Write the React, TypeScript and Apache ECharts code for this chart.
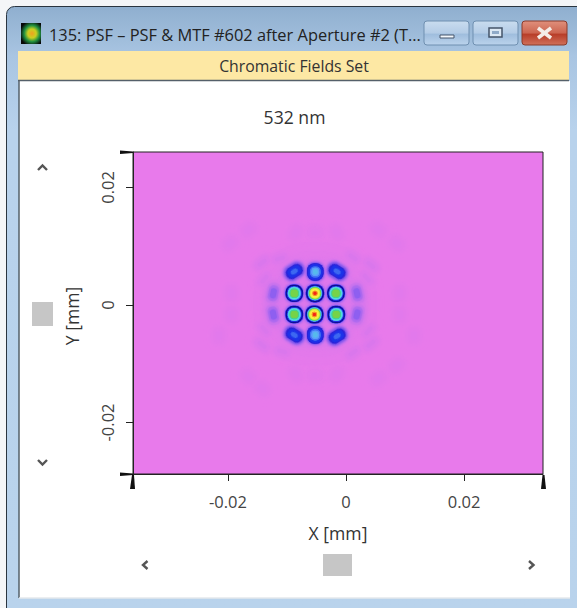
import React, { useEffect, useRef } from "react";
import * as echarts from "echarts";

const windowTitle = "135: PSF – PSF & MTF #602 after Aperture #2 (T...";
const bannerTitle = "Chromatic Fields Set";
const chartTitle = "532 nm";
const xName = "X [mm]";
const yName = "Y [mm]";
const xRange = [-0.03607, 0.03336];
const yRange = [-0.02877, 0.02604];
const xTicks = [-0.02, 0, 0.02];
const yTicks = [-0.02, 0, 0.02];

// colour of each intensity level, lowest first
const levelColors = [
  "#E87AEB", "#C873EE", "#8E5EF0", "#2A22D8", "#10108C", "#1E30E8", "#5CA0FA",
  "#50E0D8", "#38C050", "#A0E040", "#F8F040", "#F89020", "#F02818",
];

// contour bands: [width mm, height mm, level], outermost first
const haloBands = [
  [0.021, 0.021, 0.08], [0.018, 0.018, 0.16], [0.0145, 0.015, 0.28],
];
const peakBands = [
  [0.0039, 0.0039, 0.5], [0.0036, 0.0036, 1], [0.0033, 0.0033, 2], [0.0031, 0.0031, 3],
  [0.00285, 0.00285, 4], [0.00255, 0.00255, 5], [0.00235, 0.00235, 6.5], [0.0021, 0.0021, 7.5],
  [0.00195, 0.00195, 8.7], [0.00175, 0.00175, 9.6], [0.0014, 0.0014, 10],
  [0.0009, 0.0009, 11], [0.0005, 0.0005, 12],
];
const sideBands = [
  [0.0038, 0.0038, 0.5], [0.0035, 0.0035, 1], [0.0032, 0.0032, 2], [0.003, 0.003, 3],
  [0.0028, 0.0028, 4], [0.0025, 0.0025, 5], [0.0022, 0.0022, 6.3], [0.00195, 0.00195, 7],
  [0.0016, 0.0016, 7.5], [0.0012, 0.0012, 8.6], [0.0008, 0.0008, 8],
];
const edgeBands = [
  [0.0037, 0.0039, 0.5], [0.0034, 0.0036, 1], [0.0031, 0.0033, 2], [0.0028, 0.003, 3],
  [0.0024, 0.0026, 5], [0.0018, 0.0019, 5.6], [0.0013, 0.0014, 6], [0.0008, 0.0009, 6.4],
];
const cornerBands = [
  [0.0044, 0.0034, 0.5], [0.004, 0.003, 1], [0.0036, 0.0027, 1.6], [0.0033, 0.0024, 2.2],
  [0.0029, 0.002, 3], [0.0023, 0.0015, 5], [0.0012, 0.0008, 5.5],
];
const shoulderBands = [
  [0.003, 0.0045, 0.3], [0.0024, 0.0037, 0.8], [0.0017, 0.0027, 1.4], [0.001, 0.0017, 2],
];
const faintBands = [
  [0.0038, 0.003, 0.06], [0.0028, 0.002, 0.12], [0.0015, 0.001, 0.2],
];
const weakBands = [
  [0.0038, 0.0022, 0.12], [0.0029, 0.0015, 0.25], [0.0017, 0.0008, 0.45],
];

// lobes: [x mm, y mm, rotation deg]
const haloLobes = [[-0.0052, 0.0002, 0]];
const peakLobes = [[-0.00525, 0.00199, 0], [-0.00535, -0.00162, 0]];
const sideLobes = [
  [-0.00876, 0.00199, 0], [-0.0017, 0.00199, 0], [-0.00876, -0.00162, 0], [-0.00165, -0.00162, 0],
];
const edgeLobes = [[-0.0052, 0.00562, 0], [-0.0052, -0.0051, 0]];
const cornerLobes = [
  [-0.00876, 0.0057, 32], [-0.0015, 0.0057, -32], [-0.00876, -0.0051, -32], [-0.0015, -0.0053, 32],
];
const shoulderLobes = [
  [-0.0123, 0.00199, -12], [0.00186, 0.00199, 12], [-0.0123, -0.00162, 12], [0.00186, -0.00162, -12],
];
const weakLobes = [
  [-0.0142, 0.0072, 38], [-0.0112, 0.0079, 15], [-0.0138, 0.0044, 50], [0.0012, 0.0081, -35],
  [0.0042, 0.0068, -40], [0.0035, 0.0046, -50], [-0.0142, -0.0068, -38], [-0.0108, -0.0079, -15],
  [-0.0138, -0.0042, -50], [0.0012, -0.0081, 35], [0.0042, -0.0066, 40], [0.0038, -0.0044, 50],
];
const faintLobes = [
  [-0.0194, 0.00199, 90], [0.0091, 0.00199, 90], [-0.0194, -0.00162, 90], [0.0091, -0.00162, 90],
  [-0.0052, 0.0124, 0], [-0.0052, -0.012, 0], [-0.0085, 0.0123, 60], [-0.0016, 0.0123, -60],
  [-0.0085, -0.0118, -60], [-0.0016, -0.0118, 60], [0.0055, 0.0128, -40], [0.0086, 0.0105, -40],
  [-0.0165, 0.0128, 40], [-0.0196, 0.0105, 40], [-0.0165, -0.0122, -40], [-0.0142, -0.0142, -40],
  [0.0055, -0.0125, 40], [0.0086, -0.0103, 40], [-0.0215, -0.0052, 90], [0.0115, -0.0052, 90],
];

const expand = (lobes: number[][], bands: number[][]) =>
  lobes.flatMap(([x, y, rot]) => bands.map(([w, h, level]) => [x, y, w, h, rot, level]));

// drawn lowest level first, so that a brighter band is never covered by a neighbour's outer band
const contours = [
  ...expand(haloLobes, haloBands),
  ...expand(faintLobes, faintBands),
  ...expand(weakLobes, weakBands),
  ...expand(shoulderLobes, shoulderBands),
  ...expand(cornerLobes, cornerBands),
  ...expand(edgeLobes, edgeBands),
  ...expand(sideLobes, sideBands),
  ...expand(peakLobes, peakBands),
].sort((a, b) => a[5] - b[5]);

const chevron = (pts: number[][]) => ({
  type: "polyline",
  z: -5,
  shape: { points: pts },
  style: { stroke: "#555555", lineWidth: 2.4, fill: "none" },
});
const square = (x: number, y: number, w: number, h: number) => ({
  type: "rect",
  z: -5,
  shape: { x, y, width: w, height: h },
  style: { fill: "#C6C6C6" },
});
const vGrad = (stops: [number, string][]) => ({
  type: "linear", x: 0, y: 0, x2: 0, y2: 1,
  colorStops: stops.map(([offset, color]) => ({ offset, color })),
});
const button = (x: number, w: number, grad: any, border: string) => ({
  type: "rect",
  z: -5,
  shape: { x, y: 21, width: w, height: 24, r: 3 },
  style: { fill: grad, stroke: border, lineWidth: 1 },
});
const blueBtn = vGrad([[0, "#C9DCEF"], [0.5, "#B4CCE6"], [0.55, "#9FBDDD"], [1, "#BBD3EC"]]);
const redBtn = vGrad([[0, "#E0907C"], [0.5, "#CC6550"], [0.55, "#B83D28"], [1, "#D0705A"]]);
const cornerTick = (pts: number[][]) => ({
  type: "polygon",
  z: 20,
  shape: { points: pts },
  style: { fill: "#111111" },
});

const chrome = [
  { type: "rect", z: -20, shape: { x: 0, y: 0, width: 577, height: 608 }, style: { fill: "#F4F6F8" } },
  {
    type: "rect", z: -19,
    shape: { x: 6.5, y: 6.5, width: 590, height: 620, r: 8 },
    style: {
      fill: vGrad([[0, "#8FAFCF"], [0.08, "#A9C5E2"], [0.2, "#B8D2EC"], [1, "#B9D3EC"]]),
      stroke: "#2A3540", lineWidth: 1,
    },
  },
  {
    type: "rect", z: -18,
    shape: { x: 18, y: 51, width: 551, height: 29 },
    style: { fill: "#FDE8A4" },
  },
  {
    type: "rect", z: -18,
    shape: { x: 19, y: 81, width: 551, height: 517 },
    style: { fill: "#FFFFFF" },
  },
  { type: "line", z: -17, shape: { x1: 18, y1: 80.5, x2: 569, y2: 80.5 }, style: { stroke: "#55606A", lineWidth: 1.5 } },
  { type: "line", z: -17, shape: { x1: 19, y1: 80.5, x2: 19, y2: 598 }, style: { stroke: "#55606A", lineWidth: 1.5 } },
  { type: "line", z: -17, shape: { x1: 19, y1: 598, x2: 570, y2: 598 }, style: { stroke: "#E4E8EC", lineWidth: 1.5 } },
  {
    type: "rect", z: -5,
    shape: { x: 21, y: 23, width: 20, height: 21 },
    style: {
      fill: {
        type: "radial", x: 0.55, y: 0.5, r: 0.6,
        colorStops: [
          { offset: 0, color: "#F0A020" }, { offset: 0.35, color: "#C8D020" },
          { offset: 0.65, color: "#209040" }, { offset: 1, color: "#080808" },
        ],
      },
    },
  },
  {
    type: "text", z: -5, x: 49, y: 34,
    style: { text: windowTitle, fill: "#222222", font: "16.4px 'Open Sans'", verticalAlign: "middle" },
  },
  button(424, 45, blueBtn, "#6F8FB0"),
  button(473, 45, blueBtn, "#6F8FB0"),
  button(522, 45, redBtn, "#8A3A2A"),
  { type: "rect", z: -4, shape: { x: 440, y: 35, width: 14, height: 3 }, style: { fill: "#F4F8FC", stroke: "#44546A", lineWidth: 1 } },
  { type: "rect", z: -4, shape: { x: 489, y: 28, width: 13, height: 9 }, style: { fill: "#DCE8F4", stroke: "#44546A", lineWidth: 1.5 } },
  { type: "rect", z: -4, shape: { x: 492, y: 31, width: 7, height: 3 }, style: { fill: "#8FAAC8" } },
  { type: "line", z: -4, shape: { x1: 538, y1: 28, x2: 551, y2: 38 }, style: { stroke: "#F4EDE8", lineWidth: 3.5 } },
  { type: "line", z: -4, shape: { x1: 551, y1: 28, x2: 538, y2: 38 }, style: { stroke: "#F4EDE8", lineWidth: 3.5 } },
  {
    type: "text", z: -5, x: 294, y: 66,
    style: { text: bannerTitle, fill: "#333333", font: "15.8px 'Open Sans'", align: "center", verticalAlign: "middle" },
  },
  {
    type: "text", z: -5, x: 294.5, y: 117,
    style: { text: chartTitle, fill: "#333333", font: "17.6px 'Open Sans'", align: "center", verticalAlign: "middle" },
  },
  chevron([[38, 170], [42.5, 165.5], [47, 170]]),
  chevron([[38, 460], [42.5, 464.5], [47, 460]]),
  chevron([[147.5, 561], [143, 565], [147.5, 569]]),
  chevron([[529, 561], [533.5, 565], [529, 569]]),
  square(32, 302, 21, 24),
  square(323, 554, 29, 22),
  cornerTick([[120, 150.5], [133, 151.5], [133, 153], [120, 154]]),
  cornerTick([[120, 472.5], [133, 473.5], [133, 475], [120, 476]]),
  cornerTick([[132, 475], [134, 475], [135, 489], [130, 489]]),
  cornerTick([[542.5, 475], [544.5, 475], [546, 489], [541, 489]]),
];

const tickLabel = (v: number) => (v === 0 ? "0" : String(v));

export default function App() {
  const ref = useRef<HTMLDivElement>(null);
  useEffect(() => {
    const chart = echarts.init(ref.current!, null, { renderer: "svg" });
    chart.setOption({
      animation: false,
      backgroundColor: "#FFFFFF",
      textStyle: { fontFamily: "'Open Sans'" },
      grid: {
        left: 133, top: 152, width: 410, height: 322, show: true,
        backgroundColor: levelColors[0], borderColor: "#222222", borderWidth: 1,
      },
      xAxis: {
        type: "value", min: xRange[0], max: xRange[1], name: xName,
        nameLocation: "middle", nameGap: 50,
        nameTextStyle: { color: "#333333", fontSize: 17.6 },
        axisLine: { show: true, onZero: false, lineStyle: { color: "#222222" } },
        axisTick: { show: true, length: 7, customValues: xTicks, lineStyle: { color: "#222222" } },
        axisLabel: { show: true, customValues: xTicks, formatter: tickLabel, color: "#444444", fontSize: 16.5, margin: 19, showMinLabel: true, showMaxLabel: true },
        splitLine: { show: false },
      },
      yAxis: {
        type: "value", min: yRange[0], max: yRange[1], name: yName,
        nameLocation: "middle", nameGap: 52, nameRotate: 90,
        nameTextStyle: { color: "#333333", fontSize: 17.6, padding: [0, 6, 0, 0] },
        axisLine: { show: true, onZero: false, lineStyle: { color: "#222222" } },
        axisTick: { show: true, length: 7, customValues: yTicks, lineStyle: { color: "#222222" } },
        axisLabel: { show: true, customValues: yTicks, formatter: tickLabel, rotate: 90, color: "#444444", fontSize: 16.5, margin: 17, showMinLabel: true, showMaxLabel: true },
        splitLine: { show: false },
      },
      visualMap: {
        show: false, type: "continuous", dimension: 5, min: 0, max: levelColors.length - 1,
        inRange: { color: levelColors }, seriesIndex: 0,
      },
      series: [
        {
          type: "custom",
          coordinateSystem: "cartesian2d",
          clip: true,
          encode: { x: 0, y: 1 },
          data: contours,
          renderItem: (_p: any, api: any) => {
            const [cx, cy] = api.coord([api.value(0), api.value(1)]);
            const [w, h] = api.size([api.value(2), api.value(3)]);
            const color = api.visual("color");
            const level = api.value(5);
            const soft = level < 1 ? 6 : level < 3 ? 3 : 1.2;
            return {
              type: "rect",
              x: cx, y: cy,
              rotation: (api.value(4) * Math.PI) / 180,
              shape: { x: -w / 2, y: -h / 2, width: w, height: h, r: Math.min(w, h) * 0.45 },
              style: { fill: color, shadowBlur: soft, shadowColor: color },
            };
          },
        },
      ],
      graphic: { elements: chrome },
    });
    return () => chart.dispose();
  }, []);
  return <div ref={ref} style={{ position: "absolute", left: 0, top: 0, width: 577, height: 608 }} />;
}
